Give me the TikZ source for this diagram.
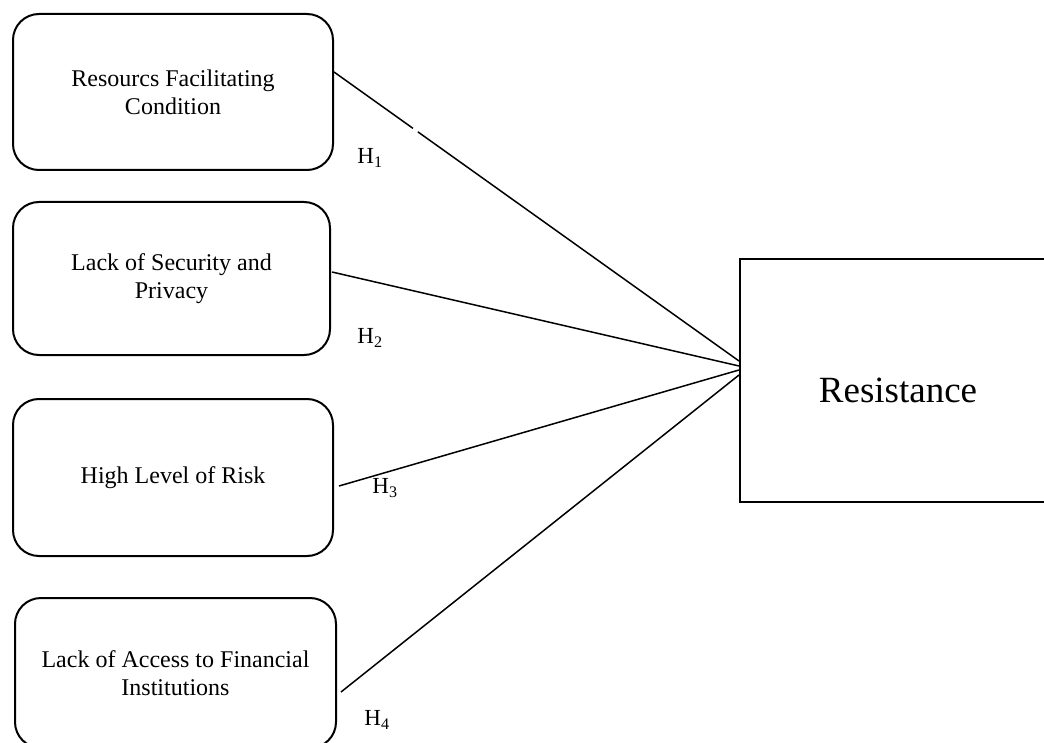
\documentclass[tikz,border=0pt]{standalone}
\usepackage{fontspec}
\setmainfont{Liberation Serif}
\begin{document}
\begin{tikzpicture}[x=1pt,y=-1pt,
  factor/.style={draw, line width=2pt, rounded corners=26pt, align=center,
    font=\fontsize{24}{28}\selectfont, inner sep=0pt},
  outcome/.style={draw, line width=2pt, inner sep=0pt,
    font=\fontsize{37}{40}\selectfont, text height=43pt, text depth=0pt},
  link/.style={line width=1.5pt},
  hyp/.style={font=\fontsize{23}{26}\selectfont, inner sep=0pt}]
\useasboundingbox (0,0) rectangle (1044,743);
\fill[white] (0,0) rectangle (1044,743);
\node[factor, minimum width=320pt, minimum height=156pt] (b1) at (173,92) {Resourcs Facilitating\\Condition};
\node[factor, minimum width=317pt, minimum height=153pt] (b2) at (171.5,278.5) {Lack of Security and\\Privacy};
\node[factor, minimum width=320pt, minimum height=157pt] (b3) at (173,477.5) {High Level of Risk};
\node[factor, minimum width=321pt, minimum height=150pt] (b4) at (175.5,673) {Lack of Access to Financial\\Institutions};
\node[outcome, minimum width=316pt, minimum height=243pt] (res) at (898,380.5) {Resistance};
\coordinate (c1) at ([yshift=19.5pt]res.west);
\coordinate (c2) at ([yshift=14.5pt]res.west);
\coordinate (c3) at ([yshift=10.5pt]res.west);
\coordinate (c4) at ([yshift=5.5pt]res.west);
\draw[link, dash pattern=on 97pt off 6pt on 600pt] ([yshift=20pt]b1.east) -- (c1);
\draw[link] ([xshift=1pt,yshift=6.5pt]b2.east) -- (c2);
\draw[link] ([xshift=5pt,yshift=-8.5pt]b3.east) -- (c3);
\draw[link] ([xshift=4pt,yshift=-19pt]b4.east) -- (c4);
\node[hyp] (h1) at (370,158) {H\textsubscript{1}};
\node[hyp] (h2) at (370,338) {H\textsubscript{2}};
\node[hyp] (h3) at (385,488) {H\textsubscript{3}};
\node[hyp] (h4) at (377,720) {H\textsubscript{4}};
\end{tikzpicture}
\end{document}
